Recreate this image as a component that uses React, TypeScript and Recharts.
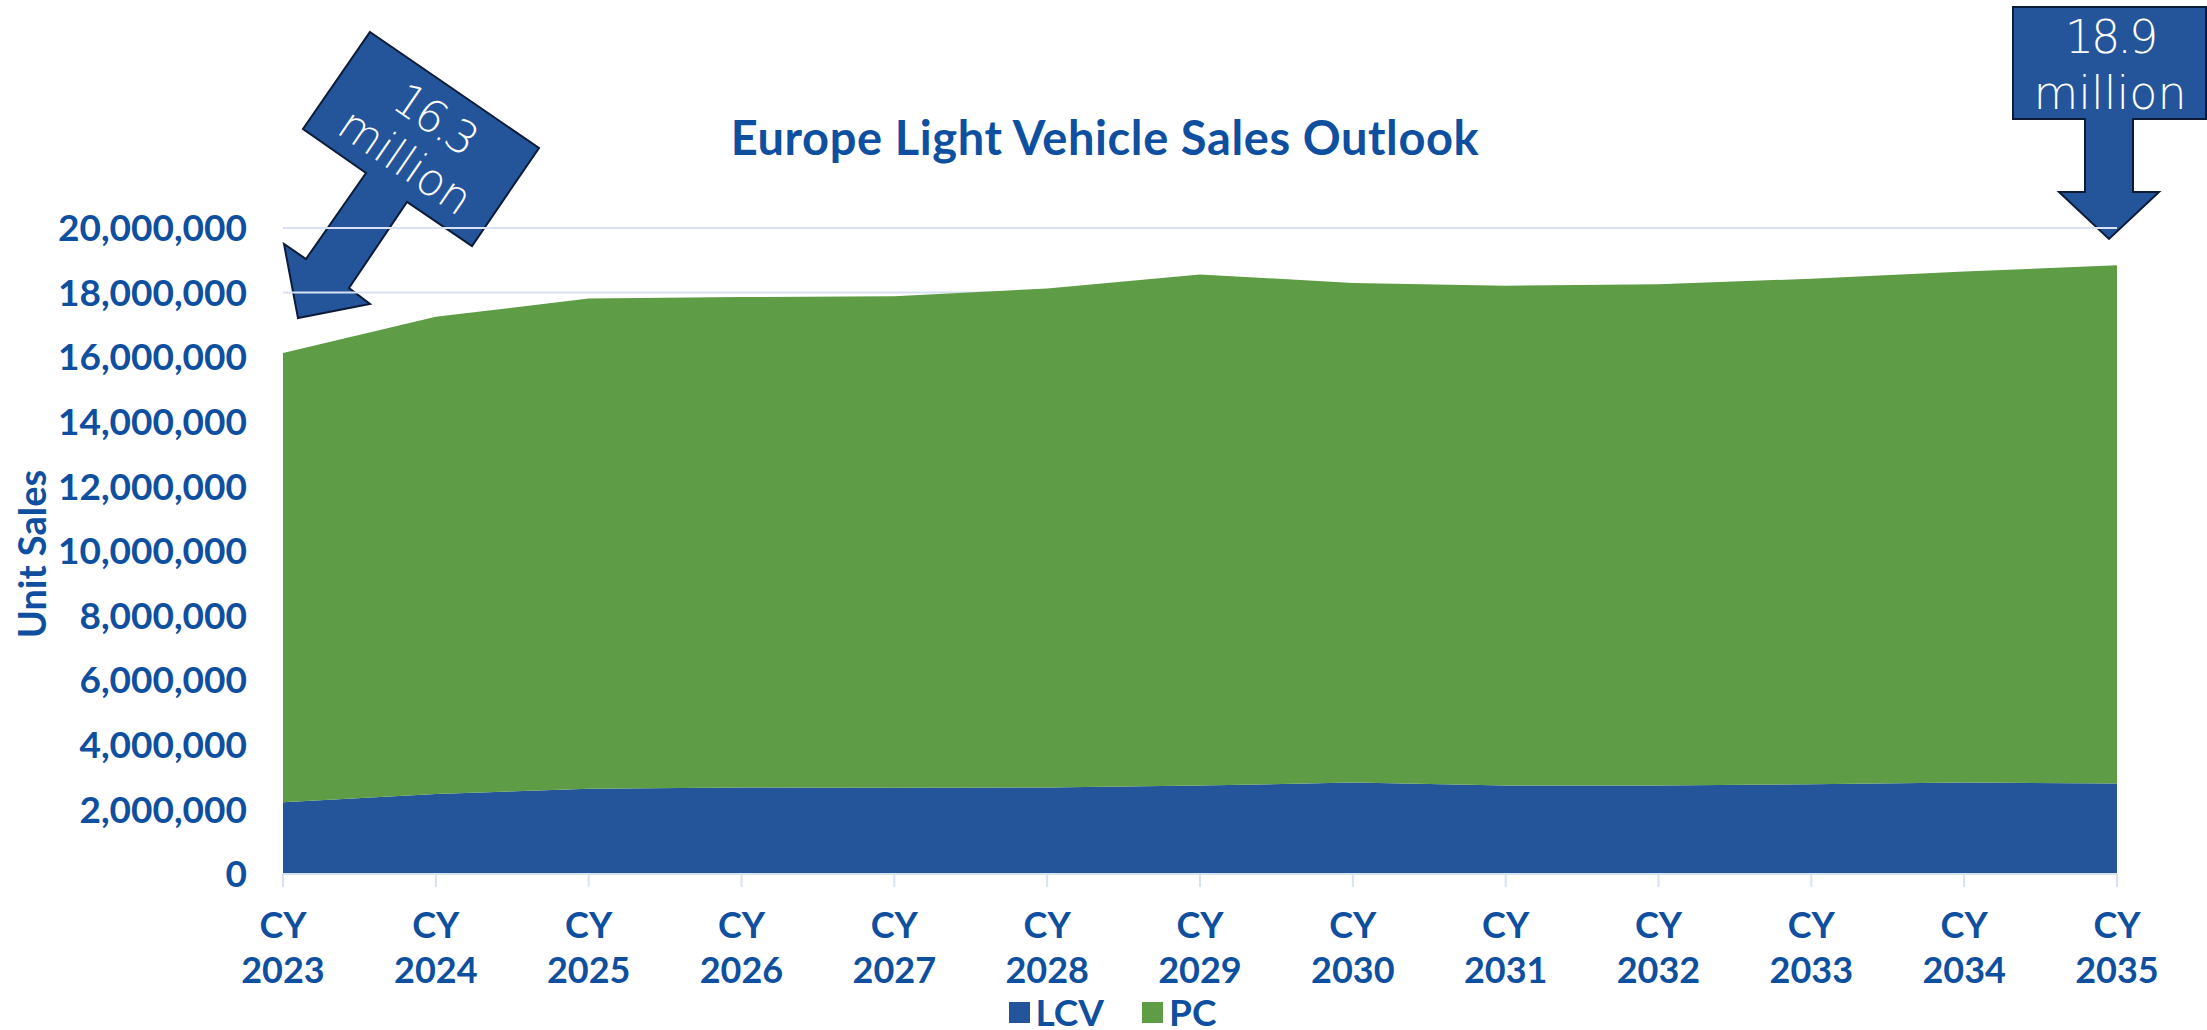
import React from 'react';
import { AreaChart, Area, XAxis, YAxis, CartesianGrid, Legend } from 'recharts';

const years = ['2023', '2024', '2025', '2026', '2027', '2028', '2029', '2030', '2031', '2032', '2033', '2034', '2035'];
const lcvSales = [2220000, 2480000, 2640000, 2680000, 2670000, 2680000, 2740000, 2830000, 2740000, 2740000, 2780000, 2830000, 2800000];
const pcSales = [13910000, 14770000, 15180000, 15180000, 15220000, 15450000, 15820000, 15470000, 15470000, 15520000, 15650000, 15820000, 16050000];
const yTicks = [0, 2000000, 4000000, 6000000, 8000000, 10000000, 12000000, 14000000, 16000000, 18000000, 20000000];

const data = years.map((y, i) => ({ year: y, LCV: lcvSales[i], PC: pcSales[i] }));

const TEXT_BLUE = '#0F4F9F';
const LCV_BLUE = '#24559A';
const PC_GREEN = '#5E9C45';
const GRID = '#D9E2F3';
const ARROW_FILL = '#24549A';
const ARROW_STROKE = '#0C1B36';
const FONT = 'Lato, "Open Sans", sans-serif';
const CALLOUT_FONT = '"DejaVu Sans", "Open Sans", sans-serif';

const XTick = (props: any) => {
  const { x, y, payload } = props;
  return (
    <text x={x} y={y} textAnchor="middle" fill={TEXT_BLUE} fontSize={36} fontWeight={700} fontFamily={FONT}>
      <tspan x={x} dy={51}>CY</tspan>
      <tspan x={x} dy={45}>{payload.value}</tspan>
    </text>
  );
};

const LegendContent = (props: any) => {
  const items = props.payload || [];
  return (
    <div style={{ display: 'flex', justifyContent: 'center', alignItems: 'center', paddingLeft: 56 }}>
      {items.map((it: any) => (
        <div key={it.value} style={{ display: 'flex', alignItems: 'center', marginRight: 38 }}>
          <div style={{ width: 21, height: 21, background: it.color, marginRight: 6 }} />
          <span style={{ color: TEXT_BLUE, fontSize: 37, fontWeight: 700, fontFamily: FONT, lineHeight: '40px' }}>{it.value}</span>
        </div>
      ))}
    </div>
  );
};

const Overlay = () => (
  <svg width={2207} height={1030} style={{ position: 'absolute', left: 0, top: 0 }}>
    <text x={1105} y={155} textAnchor="middle" fill={TEXT_BLUE} fontSize={47} fontWeight={700} fontFamily={FONT} letterSpacing={0.6}>
      Europe Light Vehicle Sales Outlook
    </text>
    <text
      x={31}
      y={554}
      transform="rotate(-90 31 554)"
      textAnchor="middle"
      dominantBaseline="central"
      fill={TEXT_BLUE}
      fontSize={38}
      fontWeight={700}
      fontFamily={FONT}
    >
      Unit Sales
    </text>
    {/* left callout arrow */}
    <polygon
      points="370,32 539,148 472,246 407,202 349,288 370,304 298,318 284,244 306,259 366,173 303,129"
      fill={ARROW_FILL}
      stroke={ARROW_STROKE}
      strokeWidth={2}
    />
    <g transform="rotate(34.5 421 139)" fill="#fff" fontSize={45} fontWeight={200} fontFamily={CALLOUT_FONT} textAnchor="middle">
      <text x={421} y={130} letterSpacing={-3}>16.3</text>
      <text x={421} y={182}>million</text>
    </g>
    {/* right callout arrow */}
    <polygon
      points="2013,7 2206,7 2206,119 2133,119 2133,192 2159,192 2109,239 2059,192 2085,192 2085,119 2013,119"
      fill={ARROW_FILL}
      stroke={ARROW_STROKE}
      strokeWidth={2}
    />
    <g fill="#fff" fontSize={46} fontWeight={200} fontFamily={CALLOUT_FONT} textAnchor="middle">
      <text x={2110} y={53} letterSpacing={-3}>18.9</text>
      <text x={2110} y={109}>million</text>
    </g>
  </svg>
);

export default function App() {
  return (
    <div style={{ position: 'absolute', left: 0, top: 0, width: 2207, height: 1030, background: '#fff' }}>
      <Overlay />
      <div style={{ position: 'absolute', left: 0, top: 0 }}>
        <AreaChart width={2207} height={1030} data={data} margin={{ top: 228, right: 90, bottom: 36, left: 43 }}>
          <CartesianGrid vertical={false} stroke={GRID} strokeWidth={2} />
          <XAxis
            dataKey="year"
            interval={0}
            height={120}
            tickSize={13}
            tickMargin={0}
            tick={<XTick />}
            tickLine={{ stroke: GRID, strokeWidth: 2 }}
            axisLine={{ stroke: GRID, strokeWidth: 2 }}
          />
          <YAxis
            domain={[0, 20000000]}
            ticks={yTicks}
            interval={0}
            width={240}
            axisLine={false}
            tickLine={false}
            tickSize={0}
            tickMargin={36}
            tickFormatter={(v: number) => v.toLocaleString('en-US')}
            tick={{ fill: TEXT_BLUE, fontSize: 37, fontWeight: 700, fontFamily: FONT }}
          />
          <Area type="linear" dataKey="LCV" stackId="1" stroke="none" fill={LCV_BLUE} fillOpacity={1} isAnimationActive={false} />
          <Area type="linear" dataKey="PC" stackId="1" stroke="none" fill={PC_GREEN} fillOpacity={1} isAnimationActive={false} />
          <Legend
            layout="horizontal"
            verticalAlign="middle"
            align="center"
            content={<LegendContent />}
            wrapperStyle={{ top: 992, left: 0, width: 2207 }}
          />
        </AreaChart>
      </div>
    </div>
  );
}
